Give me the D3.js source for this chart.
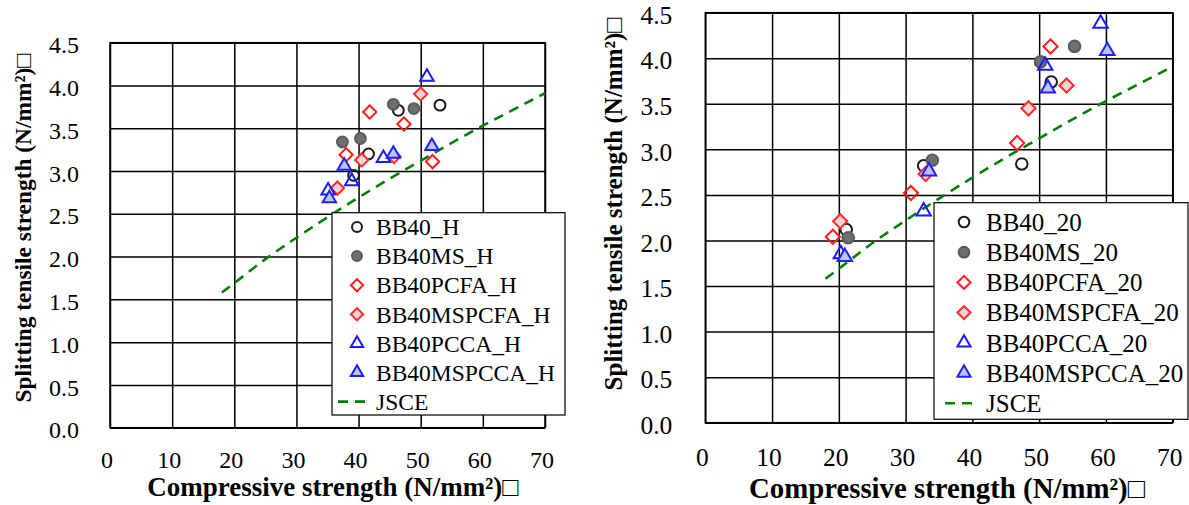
<!DOCTYPE html>
<html>
<head>
<meta charset="utf-8">
<script src="https://cdn.jsdelivr.net/npm/d3@7"></script>
<style>
body { margin: 0; background: #fff; }
svg { display: block; }
text { font-family: "Liberation Serif", "Times New Roman", serif; fill: #000; }
</style>
</head>
<body>
<div id="chart"></div>
<script>

// axis ticks
var xTicks = [0, 10, 20, 30, 40, 50, 60, 70];
var yTicks = [0, 0.5, 1.0, 1.5, 2.0, 2.5, 3.0, 3.5, 4.0, 4.5];

// JSCE curve
var jsceX = [18, 20, 25, 30, 35, 40, 45, 50, 55, 60, 65, 70];
var jsceY = [1.58, 1.69, 1.97, 2.22, 2.46, 2.69, 2.91, 3.12, 3.33, 3.53, 3.72, 3.91];

// left chart (_H)  [compressive, splitting tensile]
var hBB40     = [[46.4, 3.71], [53.1, 3.77], [41.6, 3.20], [39.2, 2.95]];
var hBB40MS   = [[45.6, 3.78], [48.9, 3.73], [37.4, 3.34], [40.3, 3.38]];
var hPCFA     = [[41.8, 3.69], [47.3, 3.55], [38.0, 3.19], [51.9, 3.11]];
var hMSPCFA   = [[50.0, 3.90], [40.5, 3.13], [36.6, 2.80], [45.7, 3.17]];
var hPCCA     = [[51.0, 4.10], [44.0, 3.15], [38.9, 2.88], [35.1, 2.77]];
var hMSPCCA   = [[51.8, 3.29], [45.6, 3.20], [37.7, 3.06], [35.3, 2.68]];

// right chart (_20)
var tBB40     = [[51.8, 3.74], [47.4, 2.84], [32.7, 2.82], [21.1, 2.12]];
var tBB40MS   = [[55.3, 4.13], [50.2, 3.96], [34.0, 2.88], [21.4, 2.03]];
var tPCFA     = [[51.7, 4.13], [46.7, 3.07], [30.8, 2.52], [19.1, 2.04]];
var tMSPCFA   = [[54.1, 3.70], [48.4, 3.45], [33.0, 2.73], [20.2, 2.21]];
var tPCCA     = [[59.2, 4.38], [50.9, 3.92], [32.7, 2.32], [20.3, 1.85]];
var tMSPCCA   = [[60.2, 4.08], [51.3, 3.67], [33.5, 2.76], [20.9, 1.82]];

var hNames = ["BB40_H", "BB40MS_H", "BB40PCFA_H", "BB40MSPCFA_H", "BB40PCCA_H", "BB40MSPCCA_H", "JSCE"];
var tNames = ["BB40_20", "BB40MS_20", "BB40PCFA_20", "BB40MSPCFA_20", "BB40PCCA_20", "BB40MSPCCA_20", "JSCE"];

// marker styles, same order as the legend
var styles = [
	{ shape: "circle",   fill: "none",    stroke: "#1a1a1a" },
	{ shape: "circle",   fill: "#6f6f6f", stroke: "#5a5a5a" },
	{ shape: "diamond",  fill: "none",    stroke: "#ff1a1a" },
	{ shape: "diamond",  fill: "#f2d6d6", stroke: "#ff2a2a" },
	{ shape: "triangle", fill: "none",    stroke: "#1a1aff" },
	{ shape: "triangle", fill: "#bac6ee", stroke: "#2020ff" }
];

var W = 1189, H = 505;

var svg = d3.select("#chart")
	.append("svg")
	.attr("width", W)
	.attr("height", H);

function markerPath(shape, k) {
	if (shape == "circle") return d3.symbol().type(d3.symbolCircle).size(92 * k * k)();
	if (shape == "diamond") return d3.symbol().type(d3.symbolSquare).size(88 * k * k)();
	return d3.symbol().type(d3.symbolTriangle).size(78 * k * k)();
}

function drawChart(o) {
	var g = svg.append("g");

	var x = d3.scaleLinear().domain([0, 70]).range([o.left, o.right]);
	var y = d3.scaleLinear().domain([0, 4.5]).range([o.bottom, o.top]);

	// vertical grid + x labels
	var gx = g.append("g")
		.attr("transform", "translate(0," + o.bottom + ")")
		.call(d3.axisBottom(x)
			.tickValues(xTicks)
			.tickSizeInner(-(o.bottom - o.top))
			.tickSizeOuter(0)
			.tickPadding(0)
			.tickFormat(d3.format("d")));
	gx.attr("font-family", null);
	gx.select(".domain").remove();
	gx.selectAll("line").attr("stroke", "#000").attr("stroke-width", 1.5);
	gx.selectAll("text")
		.attr("x", -3.5)
		.attr("y", o.xLabelDy)
		.attr("dy", null)
		.style("font-size", o.tickFont + "px");

	// horizontal grid + y labels
	var gy = g.append("g")
		.attr("transform", "translate(" + o.left + ",0)")
		.call(d3.axisLeft(y)
			.tickValues(yTicks)
			.tickSizeInner(-(o.right - o.left))
			.tickSizeOuter(0)
			.tickPadding(o.yLabelGap)
			.tickFormat(d3.format(".1f")));
	gy.attr("font-family", null);
	gy.select(".domain").remove();
	gy.selectAll("line").attr("stroke", "#000").attr("stroke-width", 1.5);
	gy.selectAll("text")
		.attr("dy", "0.42em")
		.style("font-size", o.tickFont + "px");

	// plot border
	g.append("rect")
		.attr("x", o.left).attr("y", o.top)
		.attr("width", o.right - o.left).attr("height", o.bottom - o.top)
		.attr("fill", "none").attr("stroke", "#000").attr("stroke-width", 1.5);

	// JSCE dashed curve
	var line = d3.line()
		.x(function(d) { return x(d[0]); })
		.y(function(d) { return y(d[1]); })
		.curve(d3.curveMonotoneX);
	var jsce = jsceX.map(function(v, i) { return [v, jsceY[i]]; });
	g.append("path")
		.datum(jsce)
		.attr("d", line)
		.attr("fill", "none")
		.attr("stroke", "#008000")
		.attr("stroke-width", 2.6)
		.attr("stroke-dasharray", "10,7");

	// markers
	o.series.forEach(function(s, i) {
		var st = styles[i];
		g.append("g").selectAll("path")
			.data(s)
			.enter().append("path")
			.attr("d", markerPath(st.shape, o.k))
			.attr("transform", function(d) {
				return "translate(" + x(d[0]) + "," + y(d[1]) + ")" + (st.shape == "diamond" ? " rotate(45)" : "");
			})
			.attr("fill", st.fill)
			.attr("stroke", st.stroke)
			.attr("stroke-width", 2);
	});

	// legend
	var lg = g.append("g");
	lg.append("rect")
		.attr("x", o.lg.x0).attr("y", o.lg.y0)
		.attr("width", o.lg.x1 - o.lg.x0).attr("height", o.lg.y1 - o.lg.y0)
		.attr("fill", "#fff").attr("stroke", "#000").attr("stroke-width", 1.2);
	o.names.forEach(function(name, i) {
		var cy = o.lg.first + i * o.lg.step;
		if (i < 6) {
			var st = styles[i];
			lg.append("path")
				.attr("d", markerPath(st.shape, o.k * 0.92))
				.attr("transform", "translate(" + o.lg.mx + "," + cy + ")" + (st.shape == "diamond" ? " rotate(45)" : ""))
				.attr("fill", st.fill)
				.attr("stroke", st.stroke)
				.attr("stroke-width", 2);
		} else {
			lg.append("line")
				.attr("x1", o.lg.mx - 19).attr("x2", o.lg.mx + 11)
				.attr("y1", cy).attr("y2", cy)
				.attr("stroke", "#008000")
				.attr("stroke-width", 2.6)
				.attr("stroke-dasharray", "10,7");
		}
		lg.append("text")
			.attr("x", o.lg.tx)
			.attr("y", cy)
			.attr("dy", "0.35em")
			.style("font-size", o.legendFont + "px")
			.text(name);
	});

	// axis titles
	g.append("text")
		.attr("x", o.xTitleX)
		.attr("y", o.xTitleY)
		.attr("text-anchor", "middle")
		.style("font-size", o.xTitleFont + "px")
		.style("font-weight", "bold")
		.text("Compressive strength (N/mm²)□");

	g.append("text")
		.attr("transform", "translate(" + o.yTitleX + "," + o.yTitleY + ") rotate(-90)")
		.attr("text-anchor", "middle")
		.style("font-size", o.yTitleFont + "px")
		.style("font-weight", "bold")
		.text("Splitting tensile strength (N/mm²)□");
}

drawChart({
	left: 110, right: 545, top: 42.7, bottom: 427.7,
	k: 1, tickFont: 24, legendFont: 23.5, xTitleFont: 27, yTitleFont: 23.4,
	xLabelDy: 40.5, yLabelGap: 31,
	xTitleX: 333, xTitleY: 496,
	yTitleX: 31, yTitleY: 228,
	series: [hBB40, hBB40MS, hPCFA, hMSPCFA, hPCCA, hMSPCCA],
	names: hNames,
	lg: { x0: 332, x1: 565, y0: 212.7, y1: 415, first: 227, step: 29.1, mx: 357, tx: 376 }
});

drawChart({
	left: 705.3, right: 1172.7, top: 12.7, bottom: 422.7,
	k: 1.07, tickFont: 25.5, legendFont: 25, xTitleFont: 28.8, yTitleFont: 25,
	xLabelDy: 43.5, yLabelGap: 33,
	xTitleX: 947, xTitleY: 498,
	yTitleX: 622, yTitleY: 204,
	series: [tBB40, tBB40MS, tPCFA, tMSPCFA, tPCCA, tMSPCCA],
	names: tNames,
	lg: { x0: 934, x1: 1188, y0: 202.7, y1: 419.3, first: 222, step: 30.2, mx: 964, tx: 986 }
});

</script>
</body>
</html>
